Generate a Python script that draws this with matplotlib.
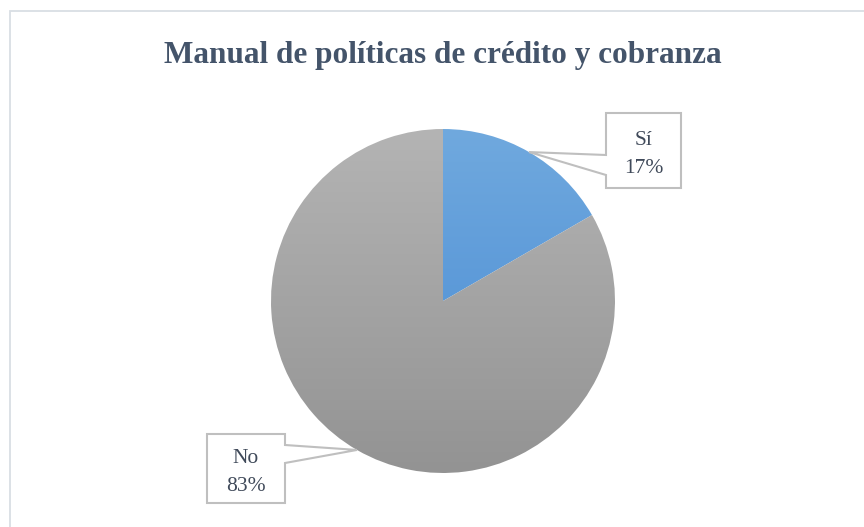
import matplotlib
matplotlib.use("Agg")
import matplotlib.pyplot as plt
import numpy as np
from matplotlib.patches import Polygon, Rectangle
from matplotlib.colors import LinearSegmentedColormap

title = "Manual de políticas de crédito y cobranza"
categories = ["Sí", "No"]
values = [16.67, 83.33]

W, H = 864, 527
fig = plt.figure(figsize=(W / 100, H / 100), dpi=100)
ax = fig.add_axes([0, 0, 1, 1])

cx, cy, r = 443, H - 301, 172
wedges, _ = ax.pie(values, startangle=90, counterclock=False, center=(cx, cy),
                   radius=r, frame=True, wedgeprops=dict(linewidth=0))
ax.set_xlim(0, W)
ax.set_ylim(0, H)
ax.set_aspect("equal")
ax.axis("off")

grads = [LinearSegmentedColormap.from_list("b", ["#4689d3", "#70a9de"]),
         LinearSegmentedColormap.from_list("g", ["#939393", "#b4b4b4"])]
grad = np.linspace(0, 1, 256).reshape(-1, 1)
for w, cm in zip(wedges, grads):
    w.set_facecolor("none")
    im = ax.imshow(grad, cmap=cm, origin="lower", aspect="auto",
                   extent=(cx - r, cx + r, cy - r, cy + r), zorder=1)
    im.set_clip_path(w)

# chart frame
ax.add_patch(Rectangle((10, -5), W + 10, H - 10 + 5 - 0.5, fill=False,
                       edgecolor="#d9dee4", linewidth=1.3, zorder=0))

ax.text(443, H - 56, title, ha="center", va="center", fontsize=22.5,
        fontweight="bold", family="Liberation Serif", color="#44546a")

# callout boxes: (left, top, right, bottom) in px, and pointer side
boxes = [(606, 113, 681, 188, "left", 155, 175),
         (207, 434, 285, 503, "right", 445, 463)]
tot = sum(values)
for w, (l, t, rr, b, side, p1, p2), cat, v in zip(wedges, boxes, categories, values):
    mid = np.deg2rad((w.theta1 + w.theta2) / 2)
    tx, ty = cx + r * np.cos(mid), cy + r * np.sin(mid)
    T, B, P1, P2 = H - t, H - b, H - p1, H - p2
    if side == "left":
        pts = [(l, T), (rr, T), (rr, B), (l, B), (l, P2), (tx, ty), (l, P1)]
    else:
        pts = [(l, T), (rr, T), (rr, P1), (tx, ty), (rr, P2), (rr, B), (l, B)]
    ax.add_patch(Polygon(pts, closed=True, facecolor="white", edgecolor="#bfbfbf",
                         linewidth=1.5, zorder=3))
    ax.text((l + rr) / 2, (T + B) / 2 - 4, f"{cat}\n{round(v / tot * 100)}%",
            ha="center", va="center", fontsize=15.5, family="Liberation Serif",
            color="#404a5a", linespacing=1.6, zorder=4)

fig.savefig("out.png", dpi=100)
